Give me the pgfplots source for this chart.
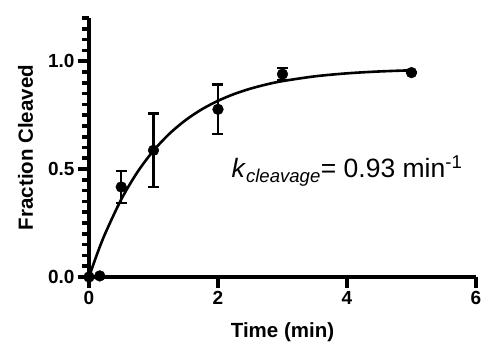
\documentclass[border=0pt]{standalone}
\usepackage{pgfplots}
\pgfplotsset{compat=1.18}
\usepackage{pgfplotstable}
\usepackage{fontspec}
\setmainfont{Liberation Sans}

\pgfplotstableread{
x y e
0 0 0
0.167 0.005 0
0.5 0.417 0.073
1 0.587 0.17
2 0.777 0.115
3 0.94 0.027
5 0.947 0
}\datatable

\begin{document}
\begin{tikzpicture}
\useasboundingbox (-89pt,-69pt) rectangle (393pt,277pt);
\begin{axis}[
  scale only axis, width=387pt, height=259pt,
  xmin=0, xmax=6, ymin=0, ymax=1.2,
  axis x line=bottom, axis y line=left,
  x axis line style={-, line width=4.5pt, black},
  y axis line style={-, line width=4.5pt, black},
  clip=false,
  xtick={0,2,4,6}, ytick={0,0.5,1},
  minor ytick={0.05,0.1,...,1.2},
  xtick align=outside, ytick align=outside,
  major tick length=11pt, minor tick length=7pt,
  xtick style={draw=black, line width=4pt},
  ytick style={draw=black, line width=3.6pt},
  /pgf/number format/assume math mode=true,
  ticklabel style={font=\fontsize{19}{19}\selectfont\bfseries},
  yticklabel style={/pgf/number format/.cd, fixed, fixed zerofill, precision=1},
  xticklabel style={/pgf/number format/.cd, fixed, precision=0},
  xlabel={Time (min)}, ylabel={Fraction Cleaved},
  label style={font=\fontsize{20.5}{20.5}\selectfont\bfseries},
  xlabel style={yshift=-11pt},
  ylabel style={yshift=8pt},
]
\addplot[black, line width=2.6pt, smooth, no marks] coordinates {
(0,0) (0.125,0.1061) (0.25,0.2006) (0.5,0.3596) (0.75,0.4856) (1,0.5854)
(1.25,0.6646) (1.5,0.7274) (1.75,0.7771) (2,0.8164) (2.25,0.8477)
(2.5,0.8724) (2.75,0.8921) (3,0.9076) (3.5,0.9297) (4,0.9436)
(4.5,0.9523) (5,0.9578)
};
\addplot[black, only marks, mark=*, mark size=5.4pt,
  error bars/.cd, y dir=both, y explicit,
  error bar style={line width=2.4pt},
  error mark options={rotate=90, mark size=5.5pt, line width=2.4pt}]
  table[x=x, y=y, y error=e] {\datatable};
\node[anchor=base west, inner sep=0pt, font=\fontsize{26.5}{26.5}\selectfont]
  at (axis cs:2.21,0.462) {\textit{k}\textsubscript{\textit{cleavage}}= 0.93 min\textsuperscript{-1}};
\end{axis}
\end{tikzpicture}
\end{document}
